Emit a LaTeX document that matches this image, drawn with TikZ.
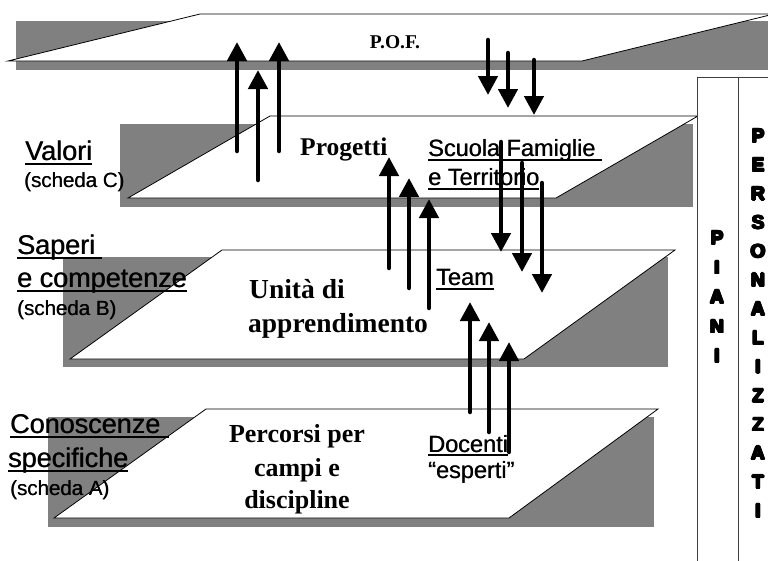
\documentclass[tikz,border=0pt]{standalone}
\usepackage{fontspec}
\setmainfont{Liberation Serif}
\newfontfamily\lsans{Liberation Sans}
\newfontfamily\heavy{Liberation Sans Bold}
\usetikzlibrary{arrows.meta}
\definecolor{planegray}{HTML}{808080}
\newcommand\fatltr[1]{\leavevmode
  \rlap{\kern-0.9pt#1}\rlap{\kern0.9pt#1}%
  \rlap{\raisebox{0.9pt}{#1}}\rlap{\raisebox{-0.9pt}{#1}}%
  \rlap{\kern0.65pt\raisebox{0.65pt}{#1}}\rlap{\kern-0.65pt\raisebox{-0.65pt}{#1}}%
  \rlap{\kern0.65pt\raisebox{-0.65pt}{#1}}\rlap{\kern-0.65pt\raisebox{0.65pt}{#1}}#1}
\newcommand\semib[1]{\leavevmode\rlap{\kern0.4pt#1}#1}
\begin{document}
\begin{tikzpicture}[x=1pt,y=-1pt,
  shadow/.style={fill=planegray, draw=none},
  plane/.style={fill=white, draw=black, line width=0.8pt, line join=miter},
  sidebox/.style={fill=white, draw=black!75, line width=0.8pt},
  head/.style={anchor=base west, inner sep=0pt, font=\lsans\fontsize{27}{32}\selectfont},
  scheda/.style={anchor=base west, inner sep=0pt, font=\lsans\fontsize{20.5}{24}\selectfont},
  actor/.style={anchor=base west, inner sep=0pt, font=\lsans\fontsize{23.5}{28}\selectfont},
  serifb/.style={inner sep=0pt, font=\bfseries\fontsize{26}{30}\selectfont},
  heavyltr/.style={anchor=base, inner sep=0pt, font=\heavy\fontsize{19}{24}\selectfont},
  uline/.style={line width=2pt},
  bigarrow/.style={line width=4.5pt, line cap=round, -{Triangle[width=19pt,length=19pt]}}
]
\useasboundingbox (0,0) rectangle (768,560);
\clip (0,0) rectangle (768,560);

% ---- planes ----
% top plane (P.O.F.)
\fill[shadow] (16,21) rectangle (768,70);
\draw[plane] (8,61) -- (200,14) -- (774,14) -- (582,61) -- cycle;
% plane C (Valori)
\fill[shadow] (120,124) rectangle (693,207);
\draw[plane] (128,198) -- (270,116) -- (698,116) -- (556,198) -- cycle;
% plane B (Saperi)
\fill[shadow] (63,257) rectangle (668,367);
\draw[plane] (70,359) -- (222,250) -- (675,250) -- (524,359) -- cycle;
% plane A (Conoscenze)
\fill[shadow] (48,417) rectangle (654,527);
\draw[plane] (54,518) -- (206,409) -- (658,409) -- (509,518) -- cycle;

% ---- right box ----
\draw[sidebox] (697,570) -- (697,77) -- (775,77) -- (775,570);
\draw[draw=black!75, line width=0.8pt] (738,77) -- (738,570);
\foreach \l [count=\i from 0] in {P,I,A,N,I}
  \node[heavyltr] (piani\i) at (717,244.5+29.5*\i) {\fatltr{\l}};
\foreach \l [count=\i from 0] in {P,E,R,S,O,N,A,L,I,Z,Z,A,T,I}
  \node[heavyltr] (pers\i) at (758,142.5+28.85*\i) {\fatltr{\l}};

% ---- centre texts ----
\node[serifb, anchor=base, font=\bfseries\fontsize{19.5}{22}\selectfont] (pof) at (395,48) {P.O.F.};
\node[serifb, anchor=base west, font=\bfseries\fontsize{25.5}{30}\selectfont] (progetti) at (300,155) {Progetti};
\node[serifb, anchor=base west, font=\bfseries\fontsize{27.5}{32}\selectfont] (unita) at (249,298) {Unità di};
\node[serifb, anchor=base west, font=\bfseries\fontsize{27.5}{32}\selectfont] (apprend) at (248,332) {apprendimento};
\node[serifb, anchor=base] (perc1) at (297,442) {Percorsi per};
\node[serifb, anchor=base] (perc2) at (297,476) {campi e};
\node[serifb, anchor=base] (perc3) at (297,508) {discipline};

% ---- actors ----
\node[actor] (scuola) at (428,156) {\semib{Scuola Famiglie}};
\node[actor] (territ) at (428,185) {\semib{e Territorio}};
\node[actor] (team) at (436,285) {\semib{Team}};
\node[actor] (docenti) at (428,452) {\semib{Docenti}};
\node[actor] (esperti) at (428,478) {\semib{“esperti”}};
\draw[uline] ([yshift=-3.5pt]scuola.base west) -- ([yshift=-3.5pt,xshift=6pt]scuola.base east);
\draw[uline] ([yshift=-3.5pt]territ.base west) -- ([yshift=-3.5pt]territ.base east);
\draw[uline] ([yshift=-3.5pt]team.base west) -- ([yshift=-3.5pt]team.base east);
\draw[uline] ([yshift=-3pt]docenti.base west) -- ([yshift=-3pt]docenti.base east);

% ---- left labels ----
\node[head] (valori) at (25,160) {\semib{Valori}};
\node[scheda] (schC) at (24,187) {\semib{(scheda C)}};
\node[head] (saperi) at (17,254) {\semib{Saperi}};
\node[head] (ecomp) at (17,287) {\semib{e competenze}};
\node[scheda] (schB) at (17,315) {\semib{(scheda B)}};
\node[head] (conosc) at (10,433) {\semib{Conoscenze}};
\node[head] (specif) at (8,467) {\semib{specifiche}};
\node[scheda] (schA) at (10,495) {\semib{(scheda A)}};
\draw[uline] ([yshift=-3.5pt]valori.base west) -- ([yshift=-3.5pt]valori.base east);
\draw[uline] ([yshift=-3.5pt]saperi.base west) -- ([yshift=-3.5pt,xshift=7pt]saperi.base east);
\draw[uline] ([yshift=-3.5pt]ecomp.base west) -- ([yshift=-3.5pt]ecomp.base east);
\draw[uline] ([yshift=-3.5pt]conosc.base west) -- ([yshift=-3.5pt,xshift=9pt]conosc.base east);
\draw[uline] ([yshift=-3.5pt]specif.base west) -- ([yshift=-3.5pt]specif.base east);

% ---- arrows ----
\foreach \n/\x/\ys/\ye in {
  a1/237/151/42, a2/258/180/70, a3/279/151/42,
  b1/488/40/95, b2/508/53/108, b3/534/60/115,
  c1/389/268/157, c2/409/288/178, c3/429/308/199,
  d1/501/142/252, d2/522/163/272, d3/542/183/293,
  e1/470/412/302, e2/489/432/322, e3/509/452/342}
{
  \coordinate (\n s) at (\x,\ys);
  \coordinate (\n e) at (\x,\ye);
  \draw[bigarrow] (\n s) -- (\n e);
}
\end{tikzpicture}
\end{document}
